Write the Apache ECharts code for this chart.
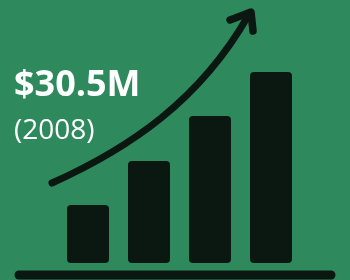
<!DOCTYPE html>
<html><head><meta charset="utf-8">
<script src="https://cdn.jsdelivr.net/npm/echarts@6/dist/echarts.min.js"></script>
<style>html,body{margin:0;padding:0;background:#2e8a5d;}#c{width:350px;height:280px;}</style>
</head><body><div id="c"></div>
<script>
const categories = ['1', '2', '3', '4'];
const values = [58, 102, 147, 191];
const headline = '$30.5M';
const yearLabel = '(2008)';

const bg = '#2e8a5d';
const dark = '#0b1811';
const chart = echarts.init(document.getElementById('c'), null, {renderer: 'canvas'});
chart.setOption({
  backgroundColor: bg,
  animation: false,
  grid: {left: 57.5, width: 244, top: 63, height: 200},
  xAxis: {type: 'category', data: categories, show: false},
  yAxis: {type: 'value', min: 0, max: 200, show: false},
  series: [{
    type: 'bar', data: values, barWidth: 42,
    itemStyle: {color: dark, borderRadius: 4}
  }],
  graphic: [
    {type: 'line', shape: {x1: 19, y1: 275, x2: 331, y2: 275},
     style: {stroke: dark, lineWidth: 9, lineCap: 'round'}},
    {type: 'bezierCurve', shape: {x1: 52, y1: 183, cpx1: 130, cpy1: 148, cpx2: 200, cpy2: 100, x2: 248, y2: 16},
     style: {stroke: dark, lineWidth: 7, lineCap: 'round', fill: null}},
    {type: 'polyline', shape: {points: [[230, 20], [251, 12], [253, 31]]},
     style: {stroke: dark, lineWidth: 7.5, lineCap: 'round', lineJoin: 'round', fill: null}},
    {type: 'text', x: 14, y: 86,
     style: {text: headline, fill: '#ffffff', font: 'bold 36px "Open Sans"', verticalAlign: 'middle', align: 'left'}},
    {type: 'text', x: 14, y: 131,
     style: {text: yearLabel, fill: '#ffffff', font: '28px "Open Sans"', verticalAlign: 'middle', align: 'left'}}
  ]
});
</script></body></html>
